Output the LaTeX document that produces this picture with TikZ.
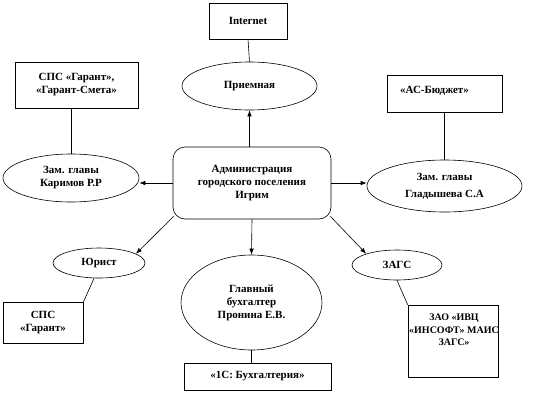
\documentclass[tikz,border=0pt]{standalone}
\usepackage{fontspec}
\setmainfont{Liberation Serif}
\usetikzlibrary{shapes.geometric,arrows.meta}
\tikzset{
  base/.style={draw=black, line width=0.6pt, inner sep=0pt, align=center, font=\bfseries\fontsize{11}{13}\selectfont},
  box/.style={base, rectangle},
  oval/.style={base, ellipse},
  txt/.style={inner sep=0pt, align=center, font=\bfseries\fontsize{11}{13}\selectfont},
  link/.style={line width=0.6pt},
  arr/.style={line width=0.6pt, -{Latex[length=6pt,width=4.5pt]}}
}
\begin{document}
\begin{tikzpicture}[x=1pt,y=-1pt]
\useasboundingbox (0,0) rectangle (535,402);
% boxes
\node[box, minimum width=78, minimum height=36] (inet) at (248,21) {Internet};
\node[box, minimum width=123, minimum height=46] (spsgs) at (76.5,85) {СПС «Гарант»,\\«Гарант-Смета»};
\node[box, minimum width=115, minimum height=37] (asb) at (444.5,93.5) {};
\node[txt] (asbt) at ([xshift=-10,yshift=3]asb.center) {«АС-Бюджет»};
\node[box, rounded corners=12pt, minimum width=158, minimum height=72] (adm) at (252,183) {Администрация\\городского поселения\\Игрим};
\node[box, minimum width=80, minimum height=41] (spsg) at (43,323) {СПС\\«Гарант»};
\node[box, minimum width=147, minimum height=27] (oneC) at (257.5,376.5) {«1С: Бухгалтерия»};
\node[box, minimum width=90, minimum height=72] (zao) at (453,341) {};
\node[txt, font=\bfseries\fontsize{10}{12.5}\selectfont] (zaot) at ([xshift=1,yshift=11]zao.center) {ЗАО «ИВЦ\\«ИНСОФТ» МАИС\\ЗАГС»};
% ovals
\node[oval, minimum width=135, minimum height=48] (prm) at (249.5,86) {Приемная};
\node[oval, minimum width=136, minimum height=48] (kar) at (71,178) {Зам. главы\\Каримов Р.Р};
\node[oval, minimum width=155, minimum height=52, font=\bfseries\fontsize{11}{17}\selectfont] (glad) at (444.5,186) {Зам. главы\\Гладышева С.А};
\node[oval, minimum width=92, minimum height=30] (jur) at (99,263) {Юрист};
\node[oval, minimum width=141, minimum height=95] (glb) at (251.5,302.5) {Главный\\бухгалтер\\Пронина Е.В.};
\node[oval, minimum width=90, minimum height=30] (zags) at (397,265) {ЗАГС};
% plain links
\draw[link] (inet.south) -- (prm.north);
\draw[link] (kar.north |- spsgs.south) -- (kar.north);
\draw[link] (glad.north |- asb.south) -- (glad.north);
\draw[link] (jur.252) -- (spsg.north east);
\draw[link] (zags.south) -- (zao.north west);
\draw[link] (glb.south) -- (glb.south |- oneC.north);
% arrows
\draw[arr] (adm.north -| prm.south) -- (prm.south);
\draw[arr] (adm.west) -- (adm.west -| kar.east);
\draw[arr] (adm.east) -- (adm.east -| glad.west);
\draw[arr] ([xshift=1,yshift=3]adm.south west) -- (jur.14);
\draw[arr] ([xshift=-1,yshift=3]adm.south east) -- (zags.160);
\draw[arr] (adm.south) -- (glb.north);
\end{tikzpicture}
\end{document}
